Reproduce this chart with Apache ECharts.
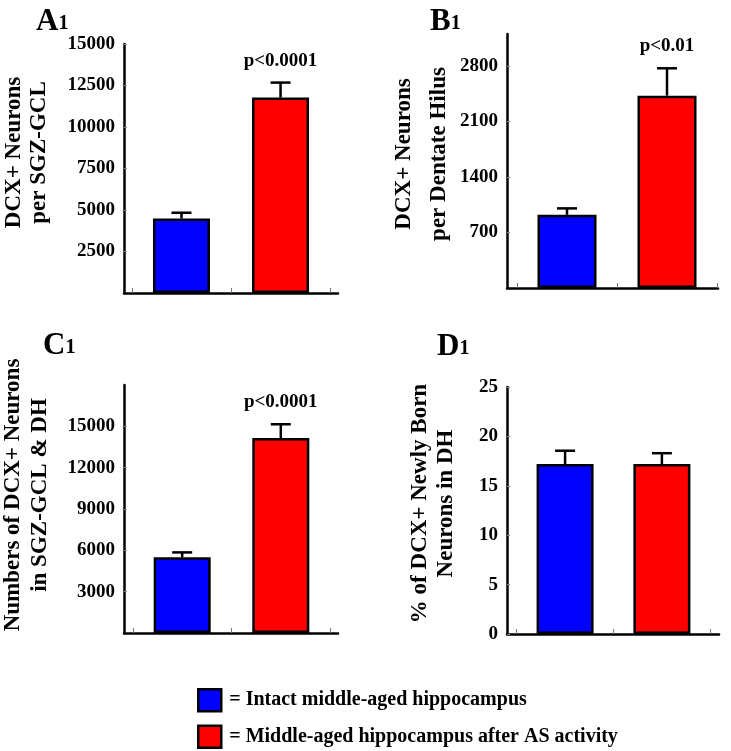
<!DOCTYPE html>
<html><head><meta charset="utf-8">
<script src="https://cdn.jsdelivr.net/npm/echarts@6/dist/echarts.min.js"></script>
<style>html,body{margin:0;padding:0;background:#fff}#c{width:731px;height:751px}</style>
</head><body><div id="c"></div>
<script>
// ---- data ----
const groups = ['Intact middle-aged hippocampus', 'Middle-aged hippocampus after AS activity'];
const panelLetters = ['A', 'B', 'C', 'D'];
const panelNumbers = ['1', '1', '1', '1'];
const yTitles = ['DCX+ Neurons\nper SGZ-GCL', 'DCX+ Neurons\nper Dentate Hilus', 'Numbers of DCX+ Neurons\nin SGZ-GCL & DH', '% of DCX+ Newly Born\nNeurons in DH'];
const meansA = [4490, 11770];
const semA = [345, 905];
const meansB = [922, 2423];
const semB = [81, 345];
const meansC = [5500, 14150];
const semC = [350, 1000];
const meansD = [17.2, 17.2];
const semD = [1.35, 1.1];
const pValues = ['p<0.0001', 'p<0.01', 'p<0.0001', ''];
const yMaxes = [15000, 3200, 18000, 25];
const yTicksA = [2500, 5000, 7500, 10000, 12500, 15000];
const yTicksB = [700, 1400, 2100, 2800];
const yTicksC = [3000, 6000, 9000, 12000, 15000];
const yTicksD = [0, 5, 10, 15, 20, 25];
const xCenters = [0.5, 1.5];
const xTicks = [0, 1, 2];

const means = [meansA, meansB, meansC, meansD];
const sems = [semA, semB, semC, semD];
const yTicks = [yTicksA, yTicksB, yTicksC, yTicksD];

// ---- layout / style ----
const FONT = '"Liberation Serif", "Times New Roman", serif';
const colors = ['#0000ff', '#ff0000'];
const layout = [
  {grid:{left:124, top:44, width:214, height:249}, xMin:-0.08, xMax:2.08, nameGap:72, lh:25, shift:32, bw:57, title:{left:36, top:5}},
  {grid:{left:507, top:34, width:211, height:254}, xMin:-0.10, xMax:2.01, nameGap:50, lh:35, shift:14, bw:59, title:{left:430, top:5}},
  {grid:{left:124, top:385, width:214, height:248}, xMin:-0.09, xMax:2.08, nameGap:70, lh:27, shift:28, bw:57, title:{left:43, top:329}},
  {grid:{left:507, top:387, width:212, height:247}, xMin:-0.10, xMax:2.09, nameGap:48, lh:26, shift:14, bw:57, title:{left:437, top:330}}
];

const grids = [], xAxes = [], yAxes = [], series = [], titles = [];
layout.forEach((L, i) => {
  grids.push(Object.assign({containLabel:false, outerBoundsMode:'none'}, L.grid));
  xAxes.push({
    type:'value', gridIndex:i, min:L.xMin, max:L.xMax,
    axisLine:{show:true, onZero:false, lineStyle:{color:'#000', width:2.5}},
    axisTick:{show:true, inside:true, length:5, customValues:xTicks, lineStyle:{color:'#777', width:1}},
    axisLabel:{show:false}, splitLine:{show:false}
  });
  yAxes.push({
    type:'value', gridIndex:i, min:0, max:yMaxes[i],
    axisLine:{show:true, onZero:false, lineStyle:{color:'#000', width:2.5}},
    axisTick:{show:true, inside:true, length:3, customValues:yTicks[i], lineStyle:{color:'#888', width:1}},
    axisLabel:{show:true, customValues:yTicks[i], margin:9, color:'#000', fontFamily:FONT, fontWeight:'bold', fontSize:19,
      formatter: v => String(v)},
    splitLine:{show:false},
    name:yTitles[i], nameLocation:'middle', nameRotate:90, nameGap:L.nameGap,
    nameTextStyle:{color:'#000', fontFamily:FONT, fontWeight:'bold', fontSize:23, lineHeight:L.lh, padding:[0,0,0,L.shift]}
  });
  groups.forEach((g, k) => {
    series.push({
      type:'bar', name:g, xAxisIndex:i, yAxisIndex:i, barWidth:L.bw, barGap:'-100%',
      itemStyle:{color:colors[k], borderColor:'#000', borderWidth:2.5},
      data:[[xCenters[k], means[i][k]]], z:2, silent:true
    });
  });
  series.push({
    type:'custom', xAxisIndex:i, yAxisIndex:i, z:5, silent:true,
    data: xCenters.map((x, k) => [x, means[i][k], sems[i][k]]),
    encode:{x:0, y:1},
    renderItem: (params, api) => {
      const x = api.value(0), m = api.value(1), e = api.value(2);
      const p0 = api.coord([x, m]), p1 = api.coord([x, m + e]);
      const ch = [
        {type:'line', shape:{x1:p0[0], y1:p0[1], x2:p1[0], y2:p1[1]}, style:{stroke:'#000', lineWidth:2.5}},
        {type:'line', shape:{x1:p1[0]-10, y1:p1[1], x2:p1[0]+10, y2:p1[1]}, style:{stroke:'#000', lineWidth:2.5}}
      ];
      if (params.dataIndex === 1 && pValues[i]) {
        ch.push({type:'text', style:{text:pValues[i], x:p1[0], y:p1[1]-22, align:'center', verticalAlign:'middle',
          fontFamily:FONT, fontWeight:'bold', fontSize:19, fill:'#000'}});
      }
      return {type:'group', children:ch};
    }
  });
  titles.push({
    text:'{a|' + panelLetters[i] + '}{b|' + panelNumbers[i] + '}', left:L.title.left, top:L.title.top, padding:0,
    textStyle:{rich:{
      a:{fontFamily:FONT, fontWeight:'bold', fontSize:31, color:'#000', verticalAlign:'bottom', lineHeight:32},
      b:{fontFamily:FONT, fontWeight:'bold', fontSize:20, color:'#000', verticalAlign:'bottom', lineHeight:32, padding:[0,0,3,0]}
    }}
  });
});

const chart = echarts.init(document.getElementById('c'), null, {renderer:'canvas'});
chart.setOption({
  backgroundColor:'#fff', animation:false,
  title:titles, grid:grids, xAxis:xAxes, yAxis:yAxes, series:series,
  legend:{
    orient:'vertical', left:197, top:688, padding:0, itemWidth:23, itemHeight:22, itemGap:12, icon:'rect', selectedMode:false,
    data:groups, formatter:n => '= ' + n,
    textStyle:{color:'#000', fontFamily:FONT, fontWeight:'bold', fontSize:20, padding:[0,0,0,3]},
    itemStyle:{borderColor:'#000', borderWidth:2.5}
  }
});
</script></body></html>
